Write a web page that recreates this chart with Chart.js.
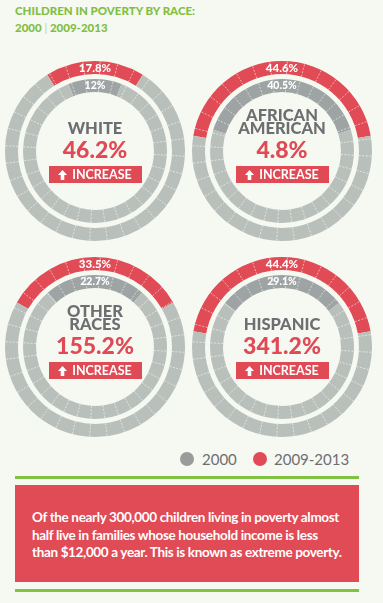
<!DOCTYPE html>
<html><head><meta charset="utf-8">
<script src="https://cdn.jsdelivr.net/npm/chart.js@4.4.0/dist/chart.umd.min.js"></script>
<style>
html,body{margin:0;padding:0;background:#f6f8f2;}
#page{position:relative;width:383px;height:603px;overflow:hidden;background:#f6f8f2;font-family:Lato,"Open Sans",sans-serif;}
.abs{position:absolute;white-space:nowrap;line-height:1;}
canvas{position:absolute;}
.title{color:#7fbf43;font-weight:900;font-size:11.5px;}
.lab{color:#6d6e71;font-weight:900;font-size:16.5px;text-align:center;width:180px;}
.pct{color:#e04a55;font-weight:900;font-size:23px;text-align:center;width:180px;}
.box{background:#e04a55;color:#fff;font-size:12.5px;font-weight:700;height:17px;width:93px;display:flex;align-items:center;justify-content:center;line-height:17px;}
.box svg{margin-right:5px;}
.legtxt{color:#6d6e71;font-size:15px;}
.dot{position:absolute;width:14px;height:14px;border-radius:50%;}
.gline{position:absolute;left:15px;width:344px;height:3px;background:#80c242;}
.note{position:absolute;left:15px;top:485px;width:344px;height:97px;background:#e14b55;}
.nl{color:#fff;font-weight:700;font-size:13.5px;letter-spacing:-0.35px;}
</style></head><body><div id="page"></div>
<script>
const races = ['WHITE', 'AFRICAN AMERICAN', 'OTHER RACES', 'HISPANIC'];
const raceLines = [['WHITE'], ['AFRICAN', 'AMERICAN'], ['OTHER', 'RACES'], ['HISPANIC']];
const share2000 = [12, 40.5, 22.7, 29.1];
const share2013 = [17.8, 44.6, 33.5, 44.4];
const changePct = [46.2, 4.8, 155.2, 341.2];
const changeWord = ['INCREASE', 'INCREASE', 'INCREASE', 'INCREASE'];
const seriesNames = ['2000', '2009-2013'];
const titleLines = ['CHILDREN IN POVERTY BY RACE:', '2000 | 2009-2013'];
const noteLines = [
  'Of the nearly 300,000 children living in poverty almost',
  'half live in families whose household income is less',
  'than $12,000 a year. This is known as extreme poverty.'
];

const RED = '#e14b55', LIGHT = '#b9c0bc', DARK = '#9ea3a3', GRAYDOT = '#9b9b9b';
const centers = [[95, 151], [282, 151], [95, 347], [282, 347]];
const page = document.getElementById('page');

function addText(cls, text, left, baseline, fs, extra) {
  const d = document.createElement('div');
  d.className = 'abs ' + cls;
  d.textContent = text;
  d.style.left = left + 'px';
  d.style.top = (baseline - 0.887 * fs) + 'px';
  if (extra) Object.assign(d.style, extra);
  page.appendChild(d);
  return d;
}

// title
addText('title', titleLines[0], 15, 15.5, 11.5);
const t2 = addText('title', '', 15, 32, 11.5);
const parts = titleLines[1].split('|');
t2.innerHTML = parts[0] + '<span style="font-weight:300">|</span>' + parts[1];

const ringDecor = {
  id: 'ringDecor',
  afterDatasetsDraw(chart) {
    const ctx = chart.ctx;
    const e0 = chart.getDatasetMeta(0).data[0], e2 = chart.getDatasetMeta(2).data[0];
    const cx = e0.x, cy = e0.y;
    ctx.save();
    ctx.strokeStyle = 'rgba(255,255,255,0.55)';
    ctx.lineWidth = 1;
    ctx.setLineDash([2, 1.5]);
    const N = 32;
    for (let k = 0; k < N; k++) {
      const a = (k + 0.3) / N * 2 * Math.PI;
      const c = Math.cos(a), s = Math.sin(a);
      [[e0.innerRadius, e0.outerRadius], [e2.innerRadius, e2.outerRadius]].forEach(([r1, r2]) => {
        ctx.beginPath();
        ctx.moveTo(cx + c * r1, cy + s * r1);
        ctx.lineTo(cx + c * r2, cy + s * r2);
        ctx.stroke();
      });
    }
    ctx.setLineDash([]);
    ctx.fillStyle = '#fff';
    ctx.textAlign = 'center';
    ctx.textBaseline = 'middle';
    [[0, 11.5], [2, 10.5]].forEach(([di, fs]) => {
      const el = chart.getDatasetMeta(di).data[0];
      const mid = (el.startAngle + el.endAngle) / 2;
      const r = (el.innerRadius + el.outerRadius) / 2;
      ctx.font = '900 ' + fs + 'px Lato';
      ctx.fillText(chart.data.datasets[di].data[0] + '%', cx + Math.cos(mid) * r, cy + Math.sin(mid) * r + 0.5);
    });
    ctx.restore();
  }
};

const arrowSvg = '<svg width="9" height="10" viewBox="0 0 9 10"><path d="M4.5 0 L9 5 L6.3 5 L6.3 10 L2.7 10 L2.7 5 L0 5 Z" fill="#fff"/></svg>';

races.forEach((race, i) => {
  const [cx, cy] = centers[i];
  const cv = document.createElement('canvas');
  cv.width = 180; cv.height = 180;
  cv.style.left = (cx - 90) + 'px';
  cv.style.top = (cy - 90) + 'px';
  page.appendChild(cv);
  new Chart(cv, {
    type: 'doughnut',
    data: {
      labels: ['share', 'rest'],
      datasets: [
        { label: seriesNames[1], data: [share2013[i], +(100 - share2013[i]).toFixed(1)], backgroundColor: [RED, LIGHT], weight: 13, rotation: -share2013[i] * 1.8, borderWidth: 0 },
        { label: 'gap', data: [100], backgroundColor: ['rgba(0,0,0,0)'], weight: 5, borderWidth: 0 },
        { label: seriesNames[0], data: [share2000[i], +(100 - share2000[i]).toFixed(1)], backgroundColor: [DARK, LIGHT], weight: 13, rotation: -share2000[i] * 1.8, borderWidth: 0 }
      ]
    },
    options: {
      responsive: false, devicePixelRatio: 1, animation: false, events: [],
      cutout: '65.5%',
      layout: { padding: 0 },
      plugins: { legend: { display: false }, tooltip: { enabled: false } }
    },
    plugins: [ringDecor]
  });
  const lines = raceLines[i];
  lines.forEach((ln, j) => {
    const bl = cy - 16.5 - (lines.length - 1 - j) * 13;
    addText('lab', ln, cx - 90, bl, 16.5);
  });
  addText('pct', changePct[i] + '%', cx - 90, cy + 7.5, 23);
  const b = document.createElement('div');
  b.className = 'abs box';
  b.style.left = (cx - 46.5) + 'px';
  b.style.top = (cy + 15) + 'px';
  b.innerHTML = arrowSvg + '<span>' + changeWord[i] + '</span>';
  page.appendChild(b);
});

// legend
const legendColors = [GRAYDOT, RED];
const legendX = [[180, 202], [253, 274]];
seriesNames.forEach((n, k) => {
  const d = document.createElement('div');
  d.className = 'dot';
  d.style.background = legendColors[k];
  d.style.left = legendX[k][0] + 'px';
  d.style.top = '452px';
  page.appendChild(d);
  addText('legtxt', n, legendX[k][1], 465, 15);
});

[476, 589].forEach(y => {
  const g = document.createElement('div');
  g.className = 'gline';
  g.style.top = y + 'px';
  page.appendChild(g);
});
const note = document.createElement('div');
note.className = 'note';
page.appendChild(note);
noteLines.forEach((ln, j) => {
  addText('nl', ln, 32, 523 + j * 17.5, 13.5);
});
</script>
</body></html>
